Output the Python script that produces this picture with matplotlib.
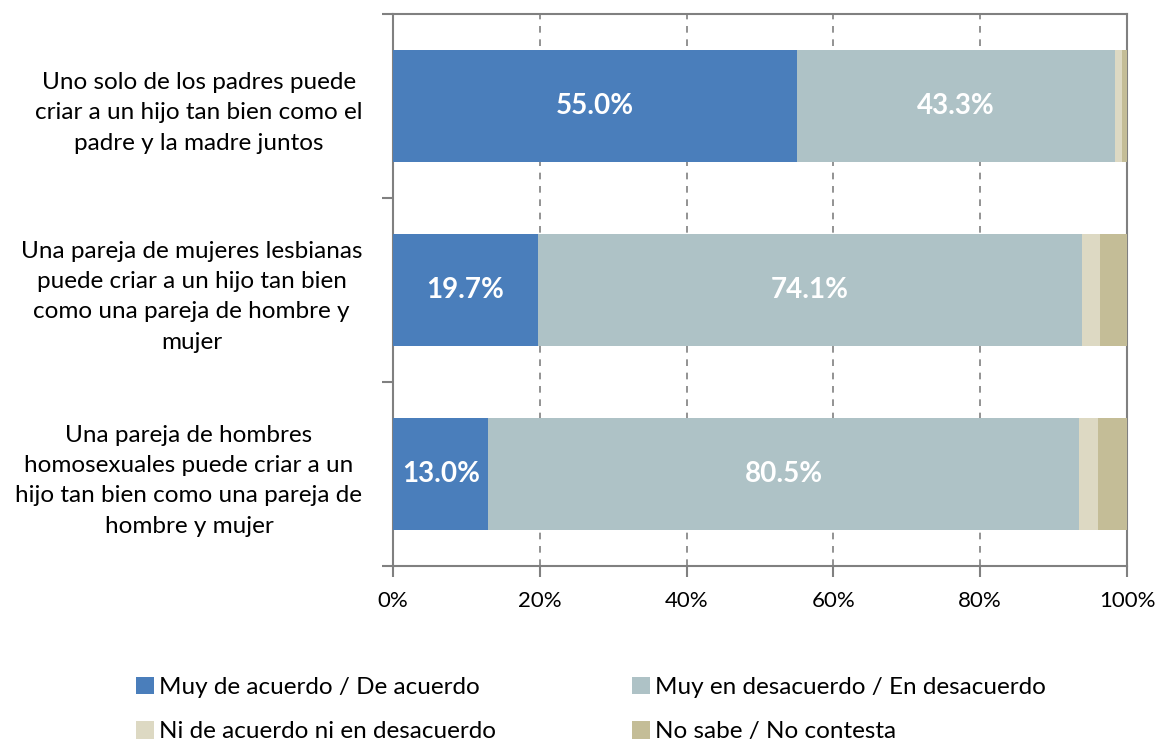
import numpy as np
import matplotlib.pyplot as plt

plt.rcParams["font.family"] = ["Lato", "DejaVu Sans"]

categorias = [
    "Uno solo de los padres puede\ncriar a un hijo tan bien como el\npadre y la madre juntos",
    "Una pareja de mujeres lesbianas\npuede criar a un hijo tan bien\ncomo una pareja de hombre y\nmujer",
    "Una pareja de hombres\nhomosexuales puede criar a un\nhijo tan bien como una pareja de\nhombre y mujer",
]
series = [
    "Muy de acuerdo / De acuerdo",
    "Muy en desacuerdo / En desacuerdo",
    "Ni de acuerdo ni en desacuerdo",
    "No sabe / No contesta",
]
de_acuerdo = [55.0, 19.7, 13.0]
desacuerdo = [43.3, 74.1, 80.5]
ni_ni = [1.0, 2.5, 2.6]
no_sabe = [0.7, 3.7, 3.9]
colores = ["#4A7EBB", "#AEC2C6", "#DDD9C3", "#C4BD97"]
xticks = [0, 20, 40, 60, 80, 100]

fig = plt.figure(figsize=(11.62, 7.42), dpi=100)
ax = fig.add_axes([0.3382, 0.2372, 0.6317, 0.7439])

y = np.arange(len(categorias))
left = np.zeros(len(categorias))
valores = [de_acuerdo, desacuerdo, ni_ni, no_sabe]
handles = []
for i, (vals, nombre, c) in enumerate(zip(valores, series, colores)):
    bars = ax.barh(y, vals, left=left, height=0.61, color=c, label=nombre, zorder=3)
    handles.append(bars)
    if i < 2:
        for b, v in zip(bars, vals):
            ax.text(b.get_x() + b.get_width() / 2, b.get_y() + b.get_height() / 2,
                    f"{v:.1f}%", ha="center", va="center", color="white",
                    fontsize=20, fontweight="bold", zorder=4)
    left += np.array(vals)

ax.set_xlim(0, 100)
ax.set_ylim(len(categorias) - 0.5, -0.5)
ax.set_xticks(xticks)
ax.set_xticklabels([f"{t}%" for t in xticks], fontsize=16)
ax.xaxis.grid(True, linestyle=(0, (4, 4)), color="#808080", linewidth=1.2, zorder=0)

# ticks at category boundaries, labels at centers
ax.set_yticks(np.arange(-0.5, len(categorias), 1.0))
ax.set_yticklabels([])
ax.set_yticks(y, minor=True)
ax.set_yticklabels(categorias, minor=True, fontsize=17.5, multialignment="center",
                   linespacing=1.55)
ax.tick_params(axis="y", which="minor", length=0, pad=22)
ax.tick_params(axis="both", which="major", length=8, width=1.5, color="#808080")
ax.tick_params(axis="x", pad=10)

for s in ax.spines.values():
    s.set_color("#808080")
    s.set_linewidth(1.5)

# row-wise legend order
orden = [0, 2, 1, 3]
fig.legend([handles[k] for k in orden], [series[k] for k in orden],
           loc="lower left", bbox_to_anchor=(0.098, -0.03), ncol=2, frameon=False,
           fontsize=17.5, handlelength=0.75, handleheight=0.75, handletextpad=0.2,
           columnspacing=5.6, labelspacing=0.95)

fig.savefig("out.png", dpi=100)
